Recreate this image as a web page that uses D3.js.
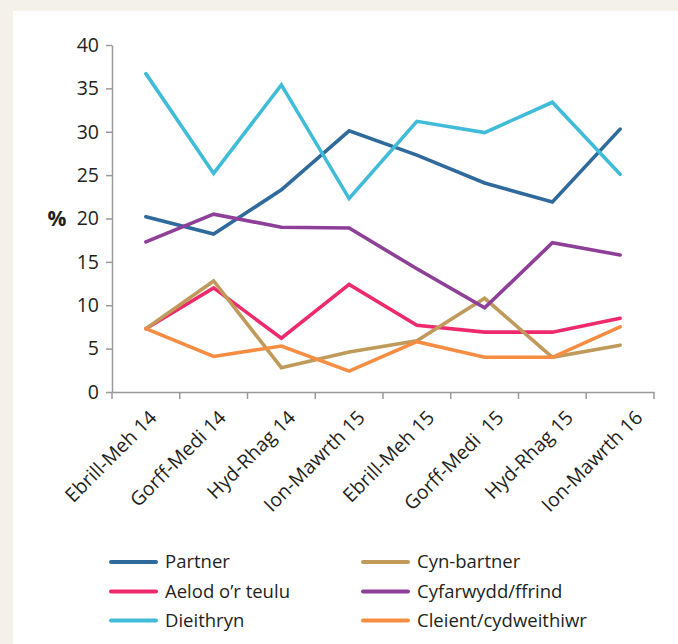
<!DOCTYPE html>
<html><head><meta charset="utf-8">
<script src="https://cdn.jsdelivr.net/npm/d3@7"></script>
<style>
html,body{margin:0;padding:0;background:#f4f0ea;}
svg{display:block;}
text{font-family:"Open Sans","Noto Sans",sans-serif;fill:#231f20;}
</style></head>
<body>
<svg id="chart" width="678" height="644"></svg>
<script>
const categories = ["Ebrill-Meh 14","Gorff-Medi 14","Hyd-Rhag 14","Ion-Mawrth 15","Ebrill-Meh 15","Gorff-Medi  15","Hyd-Rhag 15","Ion-Mawrth 16"];
const seriesNames = ["Partner","Aelod o\u2019r teulu","Dieithryn","Cyn-bartner","Cyfarwydd/ffrind","Cleient/cydweithiwr"];
const seriesColors = ["#2f6a9c","#ee2a6b","#41bcd8","#c09a5b","#8e3f97","#f68d42"];
const partner    = [20.2, 18.2, 23.3, 30.1, 27.3, 24.1, 21.9, 30.3];
const aelod      = [7.3, 12.0, 6.2, 12.4, 7.7, 6.9, 6.9, 8.5];
const dieithryn  = [36.7, 25.2, 35.4, 22.3, 31.2, 29.9, 33.4, 25.1];
const cynBartner = [7.3, 12.8, 2.8, 4.6, 5.9, 10.8, 4.0, 5.4];
const cyfarwydd  = [17.3, 20.5, 19.0, 18.9, 14.2, 9.7, 17.2, 15.8];
const cleient    = [7.3, 4.1, 5.3, 2.4, 5.8, 4.0, 4.0, 7.5];
const yTicks = [0,5,10,15,20,25,30,35,40];
const seriesValues = [partner, aelod, dieithryn, cynBartner, cyfarwydd, cleient];

const svg = d3.select("#chart");
svg.append("rect").attr("x",13).attr("y",11).attr("width",665).attr("height",633).attr("fill","#ffffff");

const x = d3.scaleBand().domain(categories).range([112,654]);
const y = d3.scaleLinear().domain([0,40]).range([392,45]);
const labelX = d3.scalePoint().domain(categories).range([153,639]);

// y axis
const yAxis = svg.append("g").attr("transform","translate(112,0)")
  .call(d3.axisLeft(y).tickValues(yTicks).tickSize(6).tickPadding(7).tickSizeOuter(0));
yAxis.select(".domain").attr("stroke","#9a9a9a").attr("stroke-width",1.5);
yAxis.selectAll(".tick line").attr("stroke","#9a9a9a").attr("stroke-width",1.5);
yAxis.selectAll(".tick text").attr("font-size",19.5).attr("fill","#231f20")
  .attr("font-family","'Open Sans','Noto Sans',sans-serif");

// x axis
const xAxis = svg.append("g").attr("transform","translate(0,392)")
  .call(d3.axisBottom(x).tickSize(0).tickSizeOuter(0).tickFormat(""));
xAxis.select(".domain").attr("stroke","#9a9a9a").attr("stroke-width",1.5);
xAxis.selectAll(".tick").remove();
const bounds = categories.map(c => x(c)).concat([x.range()[1]]);
xAxis.selectAll("line.b").data(bounds).enter().append("line")
  .attr("x1",d=>d).attr("x2",d=>d).attr("y1",0).attr("y2",7)
  .attr("stroke","#9a9a9a").attr("stroke-width",1.5);
xAxis.selectAll("text.lbl").data(categories).enter().append("text")
  .attr("class","lbl")
  .attr("transform",d=>`translate(${labelX(d)},${22}) rotate(-45)`)
  .attr("text-anchor","end").attr("dy","0.35em")
  .attr("font-size",19.5).style("white-space","pre")
  .text(d=>d);

svg.append("text").attr("x",57).attr("y",y(20)).attr("dy","0.35em")
  .attr("text-anchor","middle").attr("font-weight","bold").attr("font-size",21).text("%");

// lines
const line = d3.line().x((d,i)=>x(categories[i])+x.bandwidth()/2).y(d=>y(d));
seriesValues.forEach((vals,k)=>{
  svg.append("path").datum(vals).attr("d",line).attr("fill","none")
    .attr("stroke",seriesColors[k]).attr("stroke-width",3.6)
    .attr("stroke-linecap","round").attr("stroke-linejoin","miter");
});

// legend (column-wise: 3 per column)
const legX = [111, 363], legY = [562, 591.5, 620.5];
seriesNames.forEach((name,k)=>{
  const col = Math.floor(k/3), row = k%3;
  const g = svg.append("g").attr("transform",`translate(${legX[col]},${legY[row]})`);
  g.append("line").attr("x1",0).attr("x2",45).attr("y1",0).attr("y2",0)
    .attr("stroke",seriesColors[k]).attr("stroke-width",4).attr("stroke-linecap","round");
  g.append("text").attr("x",54).attr("y",0).attr("dy","0.35em").attr("font-size",18.5).text(name);
});
</script>
</body></html>
